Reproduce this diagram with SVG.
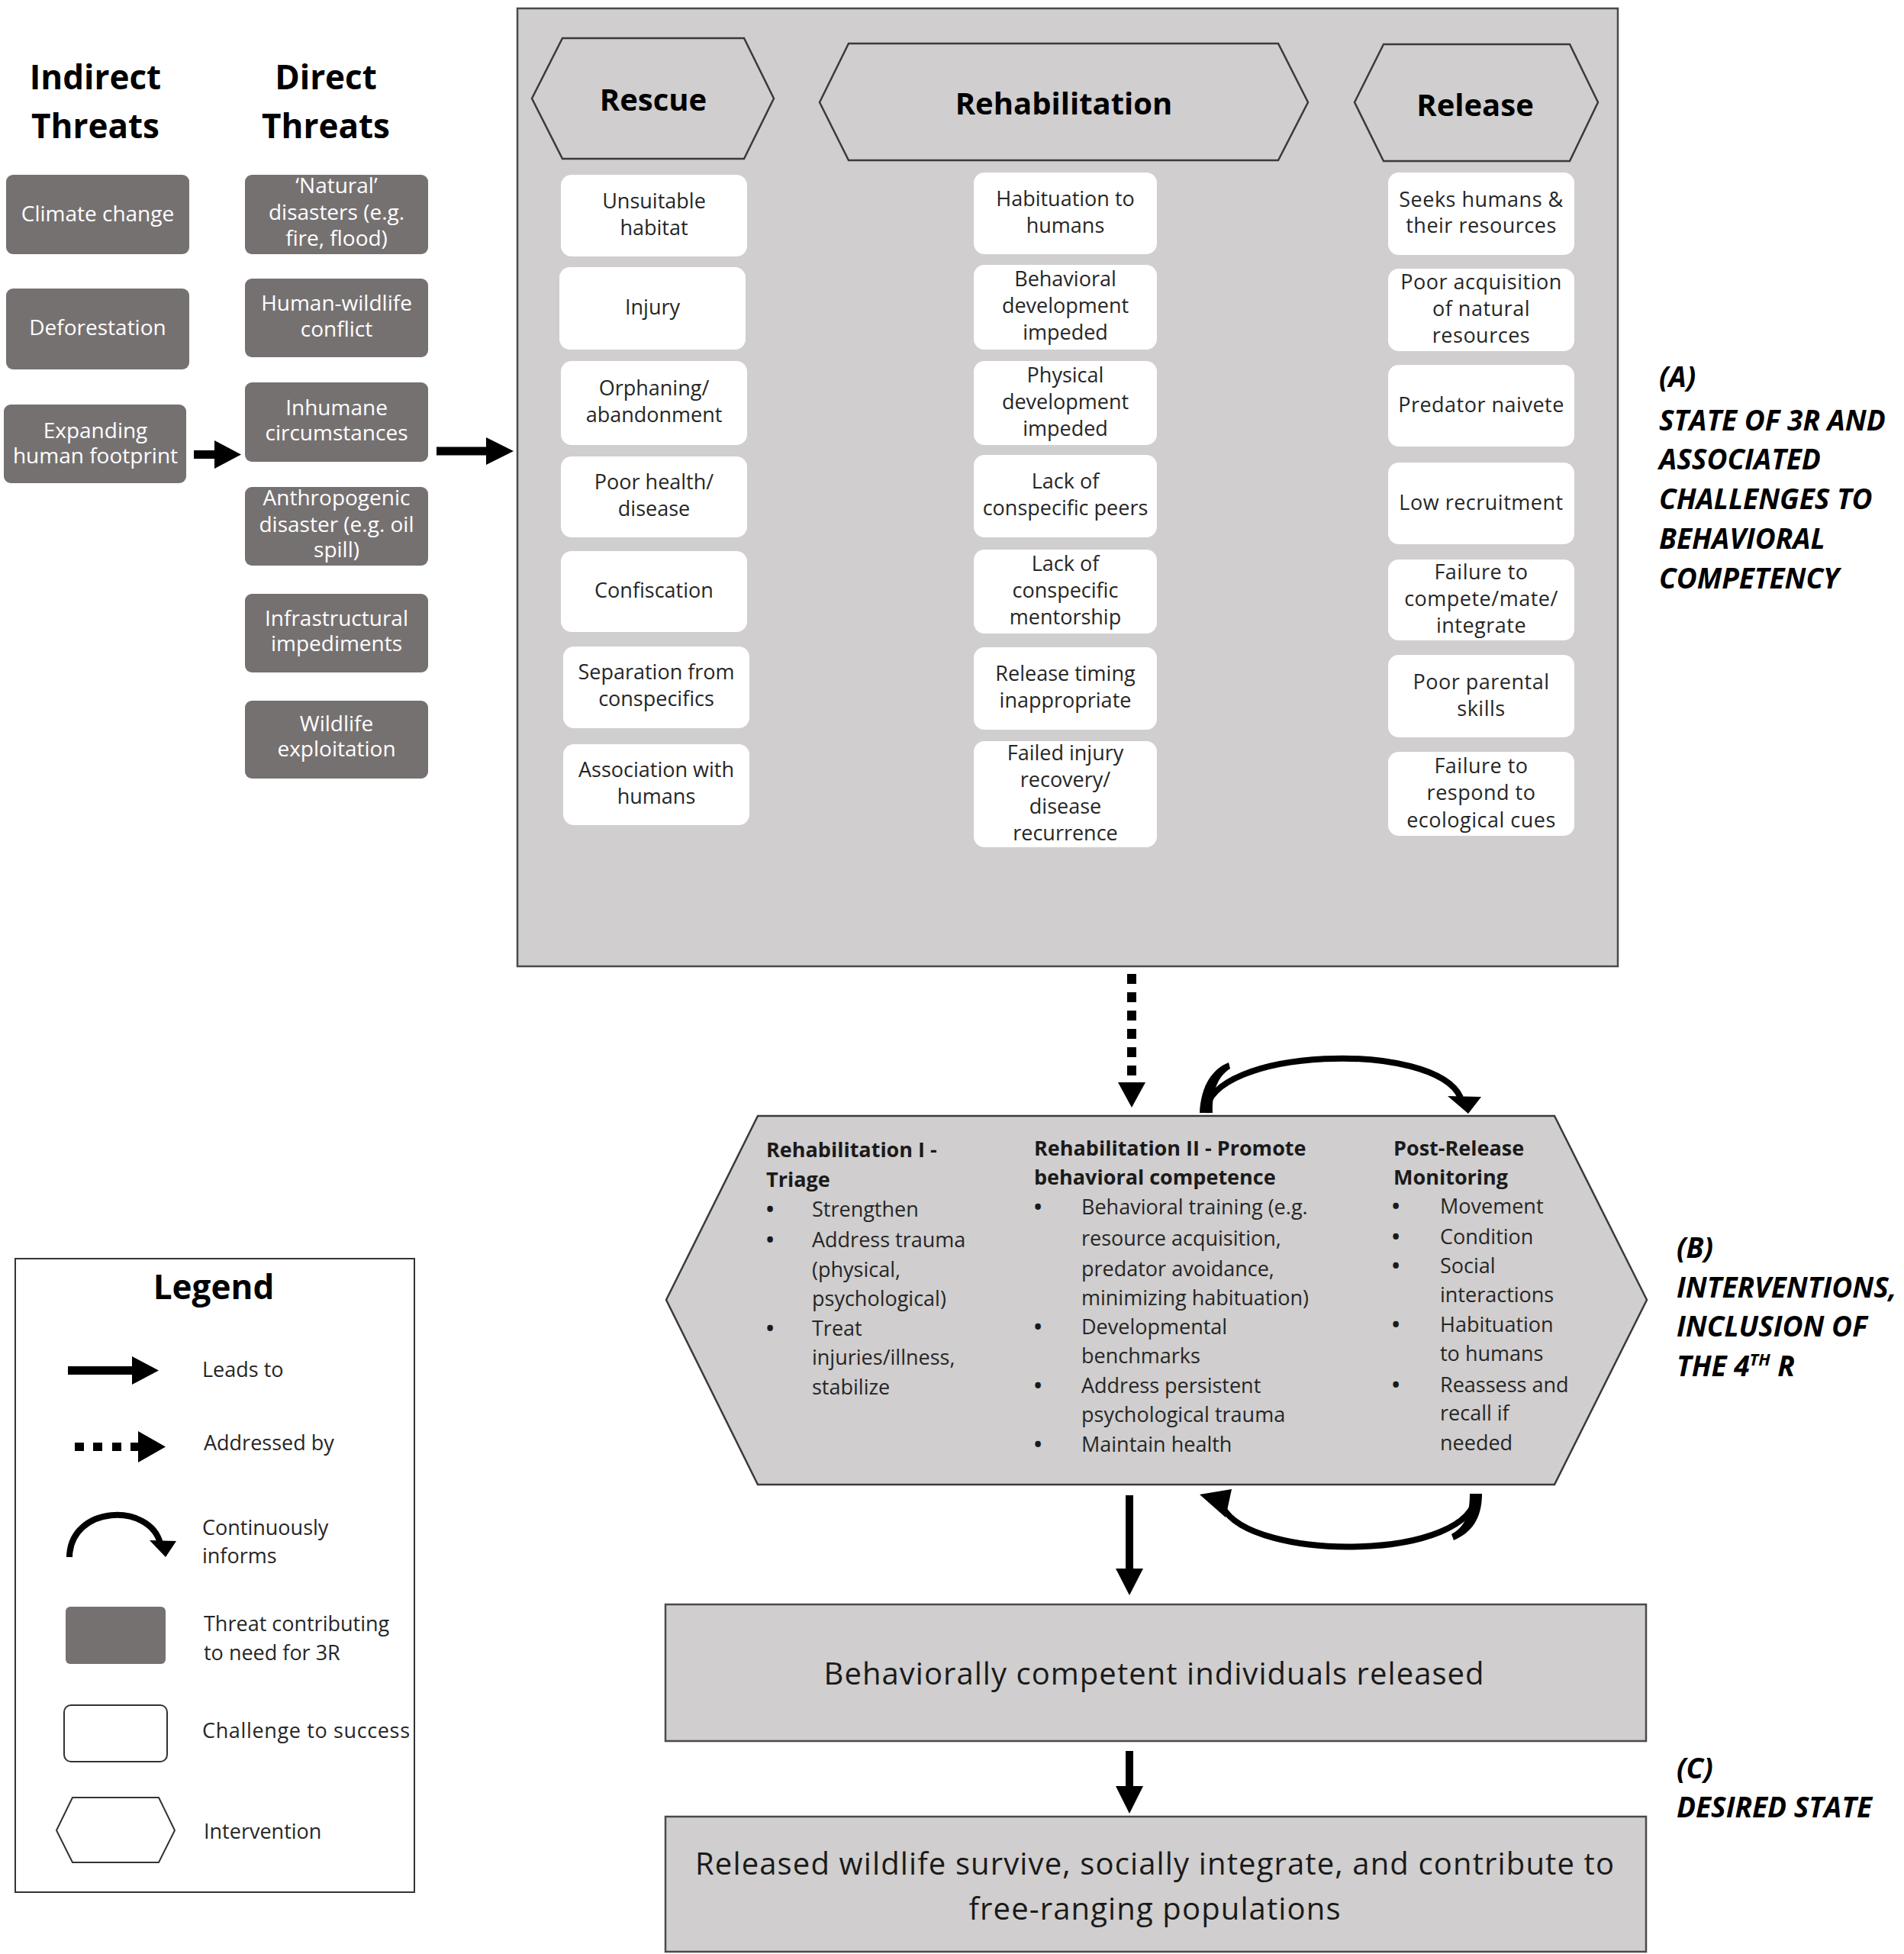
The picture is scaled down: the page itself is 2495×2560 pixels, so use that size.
<svg xmlns="http://www.w3.org/2000/svg" width="2495" height="2560" viewBox="0 0 2495 2560">
<style>
text{font-family:"Open Sans","Liberation Sans",sans-serif;}
.title{font-size:44px;font-weight:700;fill:#000;text-anchor:middle;}
.threat{fill:#767171;}
.tt{font-size:28px;fill:#fff;text-anchor:middle;}
.panel{fill:#d0cece;stroke:#4a4a4a;stroke-width:2.5;}
.hex{fill:#d0cece;stroke:#3a3a3a;stroke-width:2.5;}
.hh{font-size:40px;font-weight:700;fill:#000;text-anchor:middle;}
.wb{fill:#fff;}
.wt{font-size:27px;fill:#262626;text-anchor:middle;}
.rt{font-size:27px;fill:#262626;text-anchor:middle;letter-spacing:0.5px;}
.lab{font-size:37px;font-weight:700;font-style:italic;fill:#000;}
.bh{font-size:27px;font-weight:700;fill:#1a1a1a;}
.bt{font-size:27px;fill:#262626;}
.bu{font-size:27px;font-weight:700;fill:#1a1a1a;}
.big{font-size:40px;fill:#1a1a1a;text-anchor:middle;}
.blk{fill:#000;}
.arc{fill:none;stroke:#000;stroke-width:8;}
.lt{font-size:27px;fill:#262626;}
</style>

<g id="titles">
<text class="title" x="125" y="117">Indirect</text>
<text class="title" x="125" y="181">Threats</text>
<text class="title" x="427" y="117">Direct</text>
<text class="title" x="427" y="181">Threats</text>
</g>

<g id="indirect-threats">
<g id="t-climate"><rect class="threat" x="8" y="229" width="240" height="104" rx="9"/><text class="tt" x="128" y="290">Climate change</text></g>
<g id="t-deforestation"><rect class="threat" x="8" y="378" width="240" height="106" rx="9"/><text class="tt" x="128" y="439">Deforestation</text></g>
<g id="t-expanding"><rect class="threat" x="5" y="530" width="239" height="103" rx="9"/><text class="tt" x="125" y="574">Expanding</text><text class="tt" x="125" y="607">human  footprint</text></g>
</g>

<g id="direct-threats">
<g id="t-natural"><rect class="threat" x="321" y="229" width="240" height="104" rx="9"/><text class="tt" x="441" y="253">‘Natural’</text><text class="tt" x="441" y="288">disasters (e.g.</text><text class="tt" x="441" y="322">fire, flood)</text></g>
<g id="t-hwc"><rect class="threat" x="321" y="365" width="240" height="103" rx="9"/><text class="tt" x="441" y="407">Human-wildlife</text><text class="tt" x="441" y="441">conflict</text></g>
<g id="t-inhumane"><rect class="threat" x="321" y="501" width="240" height="104" rx="9"/><text class="tt" x="441" y="544">Inhumane</text><text class="tt" x="441" y="577">circumstances</text></g>
<g id="t-anthro"><rect class="threat" x="321" y="638" width="240" height="103" rx="9"/><text class="tt" x="441" y="662">Anthropogenic</text><text class="tt" x="441" y="697">disaster (e.g. oil</text><text class="tt" x="441" y="730">spill)</text></g>
<g id="t-infra"><rect class="threat" x="321" y="778" width="240" height="103" rx="9"/><text class="tt" x="441" y="820">Infrastructural</text><text class="tt" x="441" y="853">impediments</text></g>
<g id="t-wildlife"><rect class="threat" x="321" y="918" width="240" height="102" rx="9"/><text class="tt" x="441" y="958">Wildlife</text><text class="tt" x="441" y="991">exploitation</text></g>
</g>

<g id="panel-3r">
<rect class="panel" x="678" y="11" width="1442" height="1255"/>
<g id="hex-rescue"><polygon class="hex" points="697,129 737,50 975,50 1014,129 975,208 737,208"/><text class="hh" x="856" y="145">Rescue</text></g>
<g id="hex-rehab"><polygon class="hex" points="1074,134 1112,57 1675,57 1714,134 1675,210 1112,210"/><text class="hh" x="1394" y="150">Rehabilitation</text></g>
<g id="hex-release"><polygon class="hex" points="1775,134 1813,58 2057,58 2094,134 2057,211 1813,211"/><text class="hh" x="1933" y="152">Release</text></g>
</g>

<g id="rescue-challenges">
<g id="c-unsuitable"><rect class="wb" x="735" y="229" width="244" height="107" rx="14"/><text class="wt" x="857" y="273">Unsuitable</text><text class="wt" x="857" y="308">habitat</text></g>
<g id="c-injury"><rect class="wb" x="733" y="350" width="244" height="108" rx="14"/><text class="wt" x="855" y="412">Injury</text></g>
<g id="c-orphaning"><rect class="wb" x="735" y="473" width="244" height="110" rx="14"/><text class="wt" x="857" y="518">Orphaning/</text><text class="wt" x="857" y="553">abandonment</text></g>
<g id="c-poorhealth"><rect class="wb" x="735" y="598" width="244" height="106" rx="14"/><text class="wt" x="857" y="641">Poor health/</text><text class="wt" x="857" y="676">disease</text></g>
<g id="c-confiscation"><rect class="wb" x="735" y="722" width="244" height="106" rx="14"/><text class="wt" x="857" y="783">Confiscation</text></g>
<g id="c-separation"><rect class="wb" x="738" y="847" width="244" height="107" rx="14"/><text class="wt" x="860" y="890">Separation from</text><text class="wt" x="860" y="925">conspecifics</text></g>
<g id="c-association"><rect class="wb" x="738" y="975" width="244" height="106" rx="14"/><text class="wt" x="860" y="1018">Association with</text><text class="wt" x="860" y="1053">humans</text></g>
</g>

<g id="rehab-challenges">
<g id="c-habituation"><rect class="wb" x="1276" y="226" width="240" height="107" rx="14"/><text class="wt" x="1396" y="270">Habituation to</text><text class="wt" x="1396" y="305">humans</text></g>
<g id="c-behavdev"><rect class="wb" x="1276" y="347" width="240" height="111" rx="14"/><text class="wt" x="1396" y="375">Behavioral</text><text class="wt" x="1396" y="410">development</text><text class="wt" x="1396" y="445">impeded</text></g>
<g id="c-physdev"><rect class="wb" x="1276" y="473" width="240" height="110" rx="14"/><text class="wt" x="1396" y="501">Physical</text><text class="wt" x="1396" y="536">development</text><text class="wt" x="1396" y="571">impeded</text></g>
<g id="c-peers"><rect class="wb" x="1276" y="596" width="240" height="108" rx="14"/><text class="wt" x="1396" y="640">Lack of</text><text class="wt" x="1396" y="675">conspecific peers</text></g>
<g id="c-mentorship"><rect class="wb" x="1276" y="720" width="240" height="110" rx="14"/><text class="wt" x="1396" y="748">Lack of</text><text class="wt" x="1396" y="783">conspecific</text><text class="wt" x="1396" y="818">mentorship</text></g>
<g id="c-timing"><rect class="wb" x="1276" y="848" width="240" height="108" rx="14"/><text class="wt" x="1396" y="892">Release timing</text><text class="wt" x="1396" y="927">inappropriate</text></g>
<g id="c-failedinjury"><rect class="wb" x="1276" y="971" width="240" height="139" rx="14"/><text class="wt" x="1396" y="996">Failed injury</text><text class="wt" x="1396" y="1031">recovery/</text><text class="wt" x="1396" y="1066">disease</text><text class="wt" x="1396" y="1101">recurrence</text></g>
</g>

<g id="release-challenges">
<g id="c-seeks"><rect class="wb" x="1819" y="226" width="244" height="108" rx="14"/><text class="rt" x="1941" y="271">Seeks humans &amp;</text><text class="rt" x="1941" y="305">their resources</text></g>
<g id="c-acquisition"><rect class="wb" x="1819" y="352" width="244" height="108" rx="14"/><text class="rt" x="1941" y="379">Poor acquisition</text><text class="rt" x="1941" y="414">of natural</text><text class="rt" x="1941" y="449">resources</text></g>
<g id="c-predator"><rect class="wb" x="1819" y="478" width="244" height="107" rx="14"/><text class="rt" x="1941" y="540">Predator naivete</text></g>
<g id="c-recruitment"><rect class="wb" x="1819" y="606" width="244" height="107" rx="14"/><text class="rt" x="1941" y="668">Low recruitment</text></g>
<g id="c-compete"><rect class="wb" x="1819" y="733" width="244" height="106" rx="14"/><text class="rt" x="1941" y="759">Failure to</text><text class="rt" x="1941" y="794">compete/mate/</text><text class="rt" x="1941" y="829">integrate</text></g>
<g id="c-parental"><rect class="wb" x="1819" y="858" width="244" height="108" rx="14"/><text class="rt" x="1941" y="903">Poor parental</text><text class="rt" x="1941" y="938">skills</text></g>
<g id="c-cues"><rect class="wb" x="1819" y="985" width="244" height="110" rx="14"/><text class="rt" x="1941" y="1013">Failure to</text><text class="rt" x="1941" y="1048">respond to</text><text class="rt" x="1941" y="1084">ecological cues</text></g>
</g>

<g id="label-a">
<text class="lab" x="2174" y="507">(A)</text>
<text class="lab" x="2174" y="564">STATE OF 3R AND</text>
<text class="lab" x="2174" y="615">ASSOCIATED</text>
<text class="lab" x="2174" y="667">CHALLENGES TO</text>
<text class="lab" x="2174" y="719">BEHAVIORAL</text>
<text class="lab" x="2174" y="771">COMPETENCY</text>
</g>

<g id="interventions">
<polygon class="hex" points="873,1703 993,1462 2037,1462 2158,1703 2037,1945 993,1945"/>
<g id="col-triage">
<text class="bh" x="1004" y="1516">Rehabilitation I -</text>
<text class="bh" x="1004" y="1555">Triage</text>
<text class="bu" x="1004" y="1594">•</text><text class="bt" x="1064" y="1594">Strengthen</text>
<text class="bu" x="1004" y="1634">•</text><text class="bt" x="1064" y="1634">Address trauma</text>
<text class="bt" x="1064" y="1673">(physical,</text>
<text class="bt" x="1064" y="1711">psychological)</text>
<text class="bu" x="1004" y="1750">•</text><text class="bt" x="1064" y="1750">Treat</text>
<text class="bt" x="1064" y="1788">injuries/illness,</text>
<text class="bt" x="1064" y="1827">stabilize</text>
</g>
<g id="col-promote">
<text class="bh" x="1355" y="1514">Rehabilitation II - Promote</text>
<text class="bh" x="1355" y="1552">behavioral competence</text>
<text class="bu" x="1355" y="1591">•</text><text class="bt" x="1417" y="1591">Behavioral training (e.g.</text>
<text class="bt" x="1417" y="1632">resource acquisition,</text>
<text class="bt" x="1417" y="1672">predator avoidance,</text>
<text class="bt" x="1417" y="1710">minimizing habituation)</text>
<text class="bu" x="1355" y="1748">•</text><text class="bt" x="1417" y="1748">Developmental</text>
<text class="bt" x="1417" y="1786">benchmarks</text>
<text class="bu" x="1355" y="1825">•</text><text class="bt" x="1417" y="1825">Address persistent</text>
<text class="bt" x="1417" y="1863">psychological trauma</text>
<text class="bu" x="1355" y="1902">•</text><text class="bt" x="1417" y="1902">Maintain health</text>
</g>
<g id="col-monitoring">
<text class="bh" x="1826" y="1514">Post-Release</text>
<text class="bh" x="1826" y="1552">Monitoring</text>
<text class="bu" x="1824" y="1590">•</text><text class="bt" x="1887" y="1590">Movement</text>
<text class="bu" x="1824" y="1630">•</text><text class="bt" x="1887" y="1630">Condition</text>
<text class="bu" x="1824" y="1668">•</text><text class="bt" x="1887" y="1668">Social</text>
<text class="bt" x="1887" y="1706">interactions</text>
<text class="bu" x="1824" y="1745">•</text><text class="bt" x="1887" y="1745">Habituation</text>
<text class="bt" x="1887" y="1783">to humans</text>
<text class="bu" x="1824" y="1824">•</text><text class="bt" x="1887" y="1824">Reassess and</text>
<text class="bt" x="1887" y="1861">recall if</text>
<text class="bt" x="1887" y="1900">needed</text>
</g>
</g>

<g id="label-b">
<text class="lab" x="2197" y="1648">(B)</text>
<text class="lab" x="2197" y="1700">INTERVENTIONS,</text>
<text class="lab" x="2197" y="1751">INCLUSION OF</text>
<text class="lab" x="2197" y="1803">THE 4<tspan font-size="22" dy="-14">TH</tspan><tspan dy="14"> R</tspan></text>
</g>

<g id="outcome-released">
<rect class="panel" x="872" y="2102" width="1285" height="179"/>
<text class="big" x="1512" y="2207" textLength="865">Behaviorally competent individuals released</text>
</g>

<g id="outcome-desired">
<rect class="panel" x="872" y="2380" width="1285" height="177"/>
<text class="big" x="1513" y="2456" textLength="1204">Released wildlife survive, socially integrate, and contribute to</text>
<text class="big" x="1513" y="2515" textLength="487">free-ranging populations</text>
</g>

<g id="label-c">
<text class="lab" x="2197" y="2330">(C)</text>
<text class="lab" x="2197" y="2381">DESIRED STATE</text>
</g>

<g id="connectors">
<g id="a-indirect-direct"><rect class="blk" x="254" y="590" width="29" height="11"/><polygon class="blk" points="281,577 316,595.5 281,614"/></g>
<g id="a-direct-panel"><rect class="blk" x="572" y="585.5" width="67" height="11"/><polygon class="blk" points="637,573 673,591 637,609"/></g>
<g id="a-panel-interventions">
<rect class="blk" x="1477" y="1276" width="12" height="13"/>
<rect class="blk" x="1477" y="1300" width="12" height="13"/>
<rect class="blk" x="1477" y="1324" width="12" height="13"/>
<rect class="blk" x="1477" y="1348" width="12" height="13"/>
<rect class="blk" x="1477" y="1372" width="12" height="13"/>
<rect class="blk" x="1477" y="1396" width="12" height="13"/>
<polygon class="blk" points="1465,1418 1501,1418 1483,1451"/>
</g>
<g id="a-loop-top"><path class="arc" d="M1580 1458 C1584 1372 1880 1362 1914 1438"/><path class="blk" d="M1572 1458 C1574 1420 1590 1400 1610 1392 L1612 1400 C1596 1410 1588 1430 1589 1458 Z"/><polygon class="blk" points="1897,1436 1941,1437 1924,1459"/></g>
<g id="a-loop-bottom"><path class="arc" d="M1934 1957 C1932 2045 1640 2048 1602 1974"/><path class="blk" d="M1942 1957 C1942 1990 1928 2008 1905 2018 L1902 2010 C1920 2000 1926 1984 1926 1957 Z"/><polygon class="blk" points="1572,1958 1614,1951 1606,1988"/></g>
<g id="a-interventions-released"><rect class="blk" x="1475" y="1959" width="10" height="98"/><polygon class="blk" points="1462,2055 1498,2055 1480,2090"/></g>
<g id="a-released-desired"><rect class="blk" x="1475" y="2294" width="10" height="48"/><polygon class="blk" points="1462,2340 1498,2340 1480,2376"/></g>
</g>

<g id="legend">
<rect x="20" y="1649" width="523" height="830" fill="#fff" stroke="#333" stroke-width="2"/>
<text x="280" y="1702" font-size="44" font-weight="700" text-anchor="middle" fill="#000">Legend</text>
<g id="lg-leads"><rect class="blk" x="89" y="1790" width="86" height="11"/><polygon class="blk" points="173,1777 208,1795.5 173,1814"/><text class="lt" x="265" y="1804">Leads to</text></g>
<g id="lg-addressed"><rect class="blk" x="98" y="1890" width="12" height="11"/><rect class="blk" x="122" y="1890" width="12" height="11"/><rect class="blk" x="147" y="1890" width="12" height="11"/><rect class="blk" x="171" y="1890" width="12" height="11"/><polygon class="blk" points="181,1875 217,1895.5 181,1916"/><text class="lt" x="267" y="1900">Addressed by</text></g>
<g id="lg-informs"><path class="arc" d="M91 2040 C92 1972 196 1968 210 2022"/><polygon class="blk" points="196,2018 231,2019 217,2040"/><text class="lt" x="265" y="2011">Continuously</text><text class="lt" x="265" y="2048">informs</text></g>
<g id="lg-threat"><rect class="threat" x="86" y="2105" width="131" height="75" rx="6"/><text class="lt" x="267" y="2137">Threat contributing</text><text class="lt" x="267" y="2175">to need for 3R</text></g>
<g id="lg-challenge"><rect x="84" y="2234" width="135" height="74" rx="9" fill="#fff" stroke="#333" stroke-width="2"/><text class="lt" x="265" y="2277" textLength="272">Challenge to success</text></g>
<g id="lg-intervention"><polygon points="74,2398 95,2355 208,2355 229,2398 208,2440 95,2440" fill="#fff" stroke="#333" stroke-width="2"/><text class="lt" x="267" y="2409">Intervention</text></g>
</g>
</svg>
